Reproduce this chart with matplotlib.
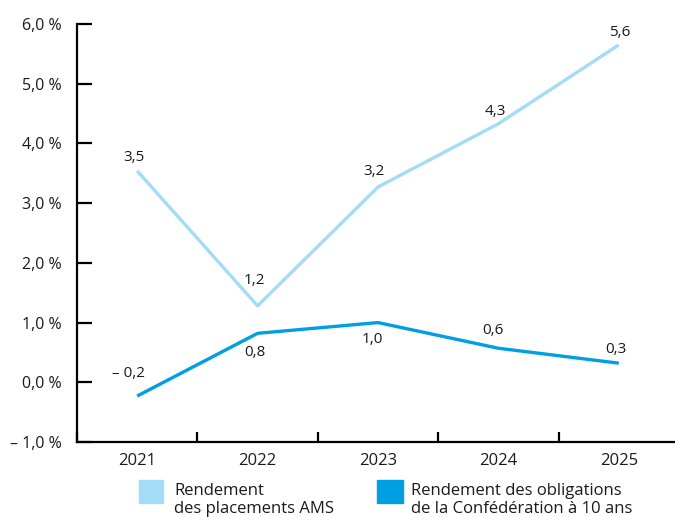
import matplotlib.pyplot as plt
from matplotlib.patches import Rectangle

plt.rcParams["font.family"] = ["Open Sans", "DejaVu Sans"]

years = ["2021", "2022", "2023", "2024", "2025"]
ams_values = [3.54, 1.28, 3.27, 4.33, 5.65]
ams_labels = ["3,5", "1,2", "3,2", "4,3", "5,6"]
bond_values = [-0.23, 0.82, 1.00, 0.57, 0.32]
bond_labels = ["\u2013 0,2", "0,8", "1,0", "0,6", "0,3"]
y_ticks = [-1, 0, 1, 2, 3, 4, 5, 6]
y_tick_labels = ["\u2013 1,0 %", "0,0 %", "1,0 %", "2,0 %", "3,0 %", "4,0 %", "5,0 %", "6,0 %"]
legend_labels = ["Rendement\ndes placements AMS",
                 "Rendement des obligations\nde la Conf\u00e9d\u00e9ration \u00e0 10 ans"]

light = "#a3dcf7"
dark = "#009fe3"
text_color = "#1a1a1a"

fig = plt.figure(figsize=(6.75, 5.17), dpi=100)
ax = fig.add_axes([77 / 675, 75 / 517, 602 / 675, 418 / 517])

x = list(range(len(years)))
ax.plot(x, ams_values, color=light, lw=2.4, solid_capstyle="butt", zorder=3)
ax.plot(x, bond_values, color=dark, lw=2.4, solid_capstyle="butt", zorder=3)

# data labels (offsets in points)
ams_offsets = [(-2, 10), (-2, 18), (-3, 11), (-2, 9), (1, 9)]
bond_offsets = [(-6, 16), (-2, -14), (-4, -12), (-4, 13), (-2, 10)]
for i in x:
    ax.annotate(ams_labels[i], (i, ams_values[i]), xytext=ams_offsets[i],
                textcoords="offset points", ha="center", va="center",
                fontsize=11, color=text_color)
    ax.annotate(bond_labels[i], (i, bond_values[i]), xytext=bond_offsets[i],
                textcoords="offset points", ha="center", va="center",
                fontsize=11, color=text_color)

ax.set_xlim(-0.5, 4.5)
ax.set_ylim(-1, 6)
for side in ["top", "right"]:
    ax.spines[side].set_visible(False)
ax.spines["left"].set_linewidth(1.6)
ax.spines["bottom"].set_linewidth(1.6)

ax.set_yticks(y_ticks)
ax.set_yticklabels(y_tick_labels, fontsize=11.5, color=text_color)
ax.tick_params(axis="y", direction="in", length=11, width=1.6, pad=11)

ax.set_xticks([i - 0.5 for i in range(len(years) + 1)])
ax.set_xticklabels([])
ax.set_xticks(x, minor=True)
ax.set_xticklabels(years, minor=True, fontsize=12, color=text_color)
ax.tick_params(axis="x", which="major", direction="in", length=7, width=1.6)
ax.tick_params(axis="x", which="minor", length=0, pad=8)

# legend
fig.patches.append(Rectangle((139 / 675, 1 - 503 / 517), 24 / 675, 23 / 517,
                             transform=fig.transFigure, color=light))
fig.patches.append(Rectangle((377 / 675, 1 - 503 / 517), 26 / 675, 23 / 517,
                             transform=fig.transFigure, color=dark))
fig.text(174 / 675, 1 - 483 / 517, legend_labels[0], fontsize=12,
         color=text_color, va="top", ha="left", linespacing=1.15)
fig.text(411 / 675, 1 - 483 / 517, legend_labels[1], fontsize=12,
         color=text_color, va="top", ha="left", linespacing=1.15)

fig.savefig("out.png", dpi=100)
